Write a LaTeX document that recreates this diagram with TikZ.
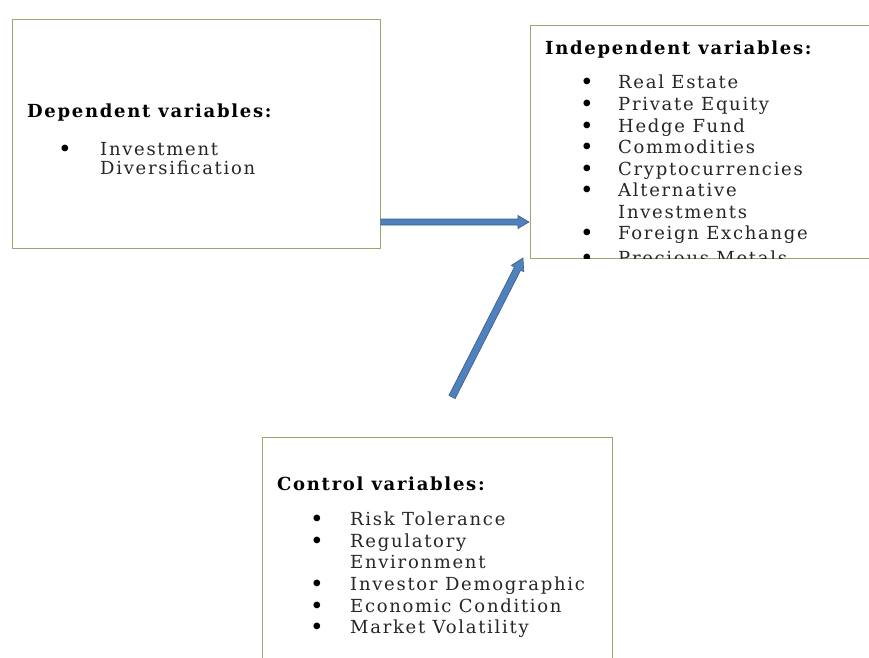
\documentclass[tikz,border=0pt]{standalone}
\usepackage{fontspec}
\setmainfont{DejaVu Serif}[LetterSpace=9.5]
\usetikzlibrary{calc}
\definecolor{boxgreen}{RGB}{150,170,110}
\definecolor{arrfill}{RGB}{79,129,189}
\definecolor{arrline}{RGB}{56,93,138}
\newcommand\bkarrow[5]{%
  \coordinate (hb) at ($(#2)!#5!(#1)$);
  \filldraw[fill=arrfill, draw=arrline, line width=0.6pt, line join=miter]
    ($(#1)!#3!90:(#2)$) -- ($(hb)!#3!90:(#2)$) -- ($(hb)!#4!90:(#2)$) -- (#2)
    -- ($(hb)!#4!-90:(#2)$) -- ($(hb)!#3!-90:(#2)$) -- ($(#1)!#3!-90:(#2)$) -- cycle;}
\tikzset{
  frame/.style={draw=boxgreen, line width=0.9pt, fill=white, inner sep=0pt, anchor=north west},
  ttl/.style={anchor=base west, font=\bfseries\fontsize{18}{20}\selectfont, inner sep=0pt},
  itm/.style={anchor=base west, font=\fontsize{18}{20}\selectfont, inner sep=0pt, text=black!85},
  bul/.style={anchor=base, font=\bfseries\fontsize{19}{20}\selectfont, inner sep=0pt},
}
\begin{document}
\begin{tikzpicture}[x=1pt,y=-1pt]
\useasboundingbox (0,0) rectangle (869,657);
\clip (0,0) rectangle (869,657);
\fill[white] (0,0) rectangle (869,657);
% boxes
\node[frame, minimum width=368pt, minimum height=229pt] (dep) at (12,19) {};
\node[frame, minimum width=360pt, minimum height=233pt] (indep) at (530,25) {};
\node[frame, minimum width=350pt, minimum height=245pt] (ctrl) at (262,437) {};
% dependent
\node[ttl] (dt) at (27,117) {Dependent variables:};
\node[bul] (db1) at (65,155) {•};
\node[itm] (di1) at (100,155) {Investment};
\node[itm] (di2) at (100,174) {Diversification};
% independent (clipped by its box)
\begin{scope}
\clip (indep.north west) rectangle (indep.south east);
\node[ttl] (it) at (545,54) {Independent variables:};
\foreach \t/\y/\b [count=\i] in {Real Estate/88/1, Private Equity/110/1, Hedge Fund/132/1,
  Commodities/153/1, Cryptocurrencies/175/1, Alternative/196/1, Investments/218/0,
  Foreign Exchange/239/1, Precious Metals/264/1}{
  \node[itm] (ii\i) at (618,\y) {\t};
  \ifnum\b=1 \node[bul] (ib\i) at (587,\y) {•};\fi
}
\end{scope}
% control
\node[ttl] (ct) at (277,490) {Control variables:};
\foreach \t/\y/\b [count=\i] in {Risk Tolerance/525/1, Regulatory/547/1, Environment/568/0,
  Investor Demographic/590/1, Economic Condition/612/1, Market Volatility/633/1}{
  \node[itm] (ci\i) at (350,\y) {\t};
  \ifnum\b=1 \node[bul] (cb\i) at (317,\y) {•};\fi
}
% arrows
\coordinate (hs) at (dep.east |- 0,222);
\coordinate (he) at ($(indep.west |- 0,222)+(-1,0)$);
\bkarrow{hs}{he}{3pt}{6.5pt}{11pt}
\coordinate (ds) at (452,397);
\coordinate (de) at ($(indep.south west)+(-7,-1)$);
\bkarrow{ds}{de}{3.5pt}{7pt}{12pt}
\end{tikzpicture}
\end{document}
